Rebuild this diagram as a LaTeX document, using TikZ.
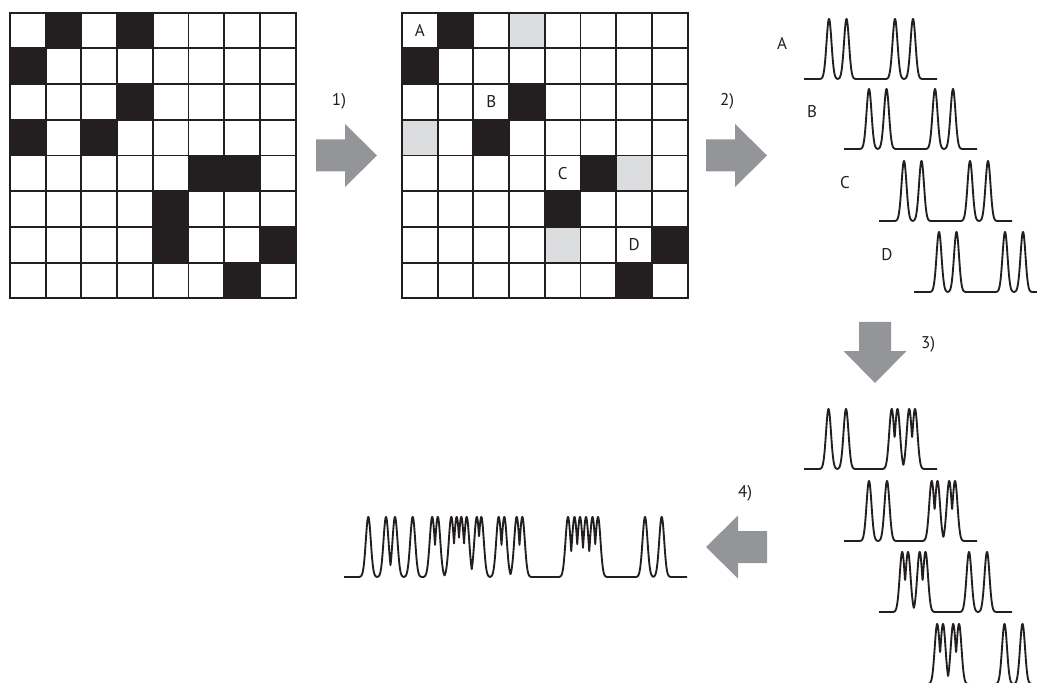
\documentclass[tikz,border=0pt]{standalone}
\usepackage{fontspec}
\setmainfont{PT Sans}

\definecolor{ink}{HTML}{231F20}
\definecolor{cellgray}{HTML}{DCDDDE}
\definecolor{arrowgray}{HTML}{939598}

\tikzset{
  cellline/.style={line width=1.6pt, draw=ink, line cap=rect},
  cellblack/.style={fill=ink},
  cellshade/.style={fill=cellgray},
  trace/.style={line width=1.6pt, draw=ink, line join=round, line cap=butt},
  lab/.style={font=\fontsize{14.5}{17}\selectfont, text=ink, inner sep=0pt},
  pics/blockarrow/.style={code={
    \fill[arrowgray] (0,-16) -- (29,-16) -- (29,-31.5) -- (61,0)
                     -- (29,31.5) -- (29,16) -- (0,16) -- cycle;}}
}

% one spectrum: #1,#2 left end of the baseline, #3 baseline length,
% #4 peak positions measured from the left end (Gaussian lines, sigma 2.5)
\newcommand\spectrum[4]{%
  \gdef\pkdist{1000}%
  \foreach \c in {#4}{%
    \xdef\pkdist{\unexpanded\expandafter{\pkdist},((\noexpand\x-\c)/10)*((\noexpand\x-\c)/10)}}%
  \draw[trace] plot[domain=0:#3, samples=\the\numexpr 4*#3+1\relax]
    ({#1+\x},{#2-60*exp(-min(20,8.0*min(\pkdist)))});
}

% an 8x8 board of cells with ruling
\newcommand\ruling{%
  \foreach \i in {0,...,8}{%
    \draw[cellline] (\i*35.7,0) -- (\i*35.7,285.6);
    \draw[cellline] (0,\i*35.7) -- (285.6,\i*35.7);
  }}

\begin{document}
\begin{tikzpicture}[x=0.03cm, y=-0.03cm]
\useasboundingbox (0,0) rectangle (1037,683);

% ---- first board ----
\begin{scope}[shift={(10,12.7)}]
  \foreach \r/\c in {0/1,0/3,1/0,2/3,3/0,3/2,4/5,4/6,5/4,6/4,6/7,7/6}
    \fill[cellblack] (\c*35.7,\r*35.7) rectangle ++(35.7,35.7);
  \ruling
\end{scope}

% ---- second board, diagonal blocks marked ----
\begin{scope}[shift={(402,12.7)}]
  \foreach \r/\c in {0/1,1/0,2/3,3/2,4/5,5/4,6/7,7/6}
    \fill[cellblack] (\c*35.7,\r*35.7) rectangle ++(35.7,35.7);
  \foreach \r/\c in {0/3,3/0,4/6,6/4}
    \fill[cellshade] (\c*35.7,\r*35.7) rectangle ++(35.7,35.7);
  \ruling
  \node[lab] (cellA) at (0.5*35.7,0.5*35.7) {A};
  \node[lab] (cellB) at (2.5*35.7,2.5*35.7) {B};
  \node[lab] (cellC) at (4.5*35.7,4.5*35.7) {C};
  \node[lab] (cellD) at (6.5*35.7,6.5*35.7) {D};
\end{scope}

% ---- process arrows and step numbers ----
\pic (arrowone)   at (316,155.5) {blockarrow};
\pic (arrowtwo)   at (706,155.5) {blockarrow};
\pic[rotate=-90] (arrowthree) at (875,322) {blockarrow};
\pic[rotate=180] (arrowfour)  at (767,547) {blockarrow};

\node[lab] (stepone)   at (339,101) {1)};
\node[lab] (steptwo)   at (727,101) {2)};
\node[lab] (stepthree) at (928,344) {3)};
\node[lab] (stepfour)  at (745,493) {4)};

% ---- single-block spectra ----
\node[lab] (specA) at (782,43)  {A};
\node[lab] (specB) at (812,112) {B};
\node[lab] (specC) at (845,183) {C};
\node[lab] (specD) at (887,255) {D};
\spectrum{804}{79}{133}{25,42.5,91,109}
\spectrum{844}{149}{133}{25,42.5,91,109}
\spectrum{879}{221}{133}{25,42.5,91,109}
\spectrum{914}{292}{133}{25,42.5,91,109}

% ---- coupled spectra ----
\spectrum{804}{469}{133}{24.5,42,87.7,93.5,105.2,111}
\spectrum{844}{541}{133}{25,43,87.7,93.5,105.2,111}
\spectrum{879}{612}{133}{23.2,29,40.7,46.5,90,108}
\spectrum{914}{684}{133}{23.2,29,39.2,45,90.5,108.5}

% ---- combined spectrum ----
\spectrum{344}{577}{343}{24.3,42,51,68.7,88.2,93.8,107.3,112.7,117.3,122.7,132.8,137.3,154.7,160.3,172.7,178.3,224,230.5,236,242,248.5,254,301,317.7}

\end{tikzpicture}
\end{document}
